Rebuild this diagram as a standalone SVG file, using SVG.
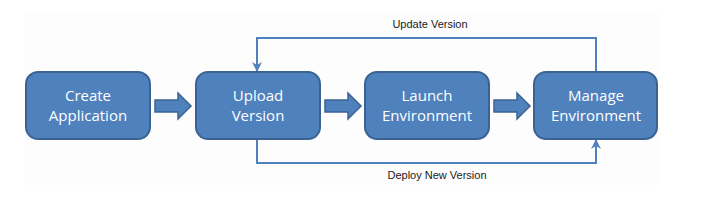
<svg xmlns="http://www.w3.org/2000/svg" width="703" height="204" viewBox="0 0 703 204">
<defs>
<style>
.box{fill:#4f81bd;stroke:#3a6393;stroke-width:2}
.bt{fill:#fff;font-family:"Open Sans","Noto Sans",sans-serif;font-size:15px;text-anchor:middle}
.blk{fill:#4f81bd;stroke:#3a6393;stroke-width:1.5}
.ln{fill:none;stroke:#4f81bd;stroke-width:2}
.lbl{fill:#1a1a1a;font-family:"Liberation Sans",Arial,sans-serif;font-size:11px;text-anchor:middle}
</style>
<marker id="ah" viewBox="0 0 10 10" refX="9" refY="5" markerWidth="5" markerHeight="5" orient="auto" markerUnits="strokeWidth">
<path d="M0,0 L10,5 L0,10 L3,5 Z" fill="#4f81bd"/>
</marker>
</defs>
<rect x="25" y="13" width="633" height="172" fill="#fdfdfd"/>
<g id="connectors">
<path class="blk" d="M155,100 H178 V93 L191,106 L178,119 V112 H155 Z"/>
<path class="blk" d="M325,100 H348 V93 L361,106 L348,119 V112 H325 Z"/>
<path class="blk" d="M494,100 H517 V93 L530,106 L517,119 V112 H494 Z"/>
<path class="ln" d="M596,72 V38 H257 V71" marker-end="url(#ah)"/>
<path class="ln" d="M257,139 V163 H596 V140" marker-end="url(#ah)"/>
<text class="lbl" x="430" y="28">Update Version</text>
<text class="lbl" x="437" y="179">Deploy New Version</text>
</g>
<g id="create">
<rect class="box" x="26" y="72" width="124" height="67" rx="12"/>
<text class="bt" x="88" y="101">Create</text>
<text class="bt" x="88" y="121">Application</text>
</g>
<g id="upload">
<rect class="box" x="196" y="72" width="124" height="67" rx="12"/>
<text class="bt" x="258" y="101">Upload</text>
<text class="bt" x="258" y="121">Version</text>
</g>
<g id="launch">
<rect class="box" x="365" y="72" width="124" height="67" rx="12"/>
<text class="bt" x="427" y="101">Launch</text>
<text class="bt" x="427" y="121">Environment</text>
</g>
<g id="manage">
<rect class="box" x="534" y="72" width="123" height="67" rx="12"/>
<text class="bt" x="596" y="101">Manage</text>
<text class="bt" x="596" y="121">Environment</text>
</g>
</svg>
